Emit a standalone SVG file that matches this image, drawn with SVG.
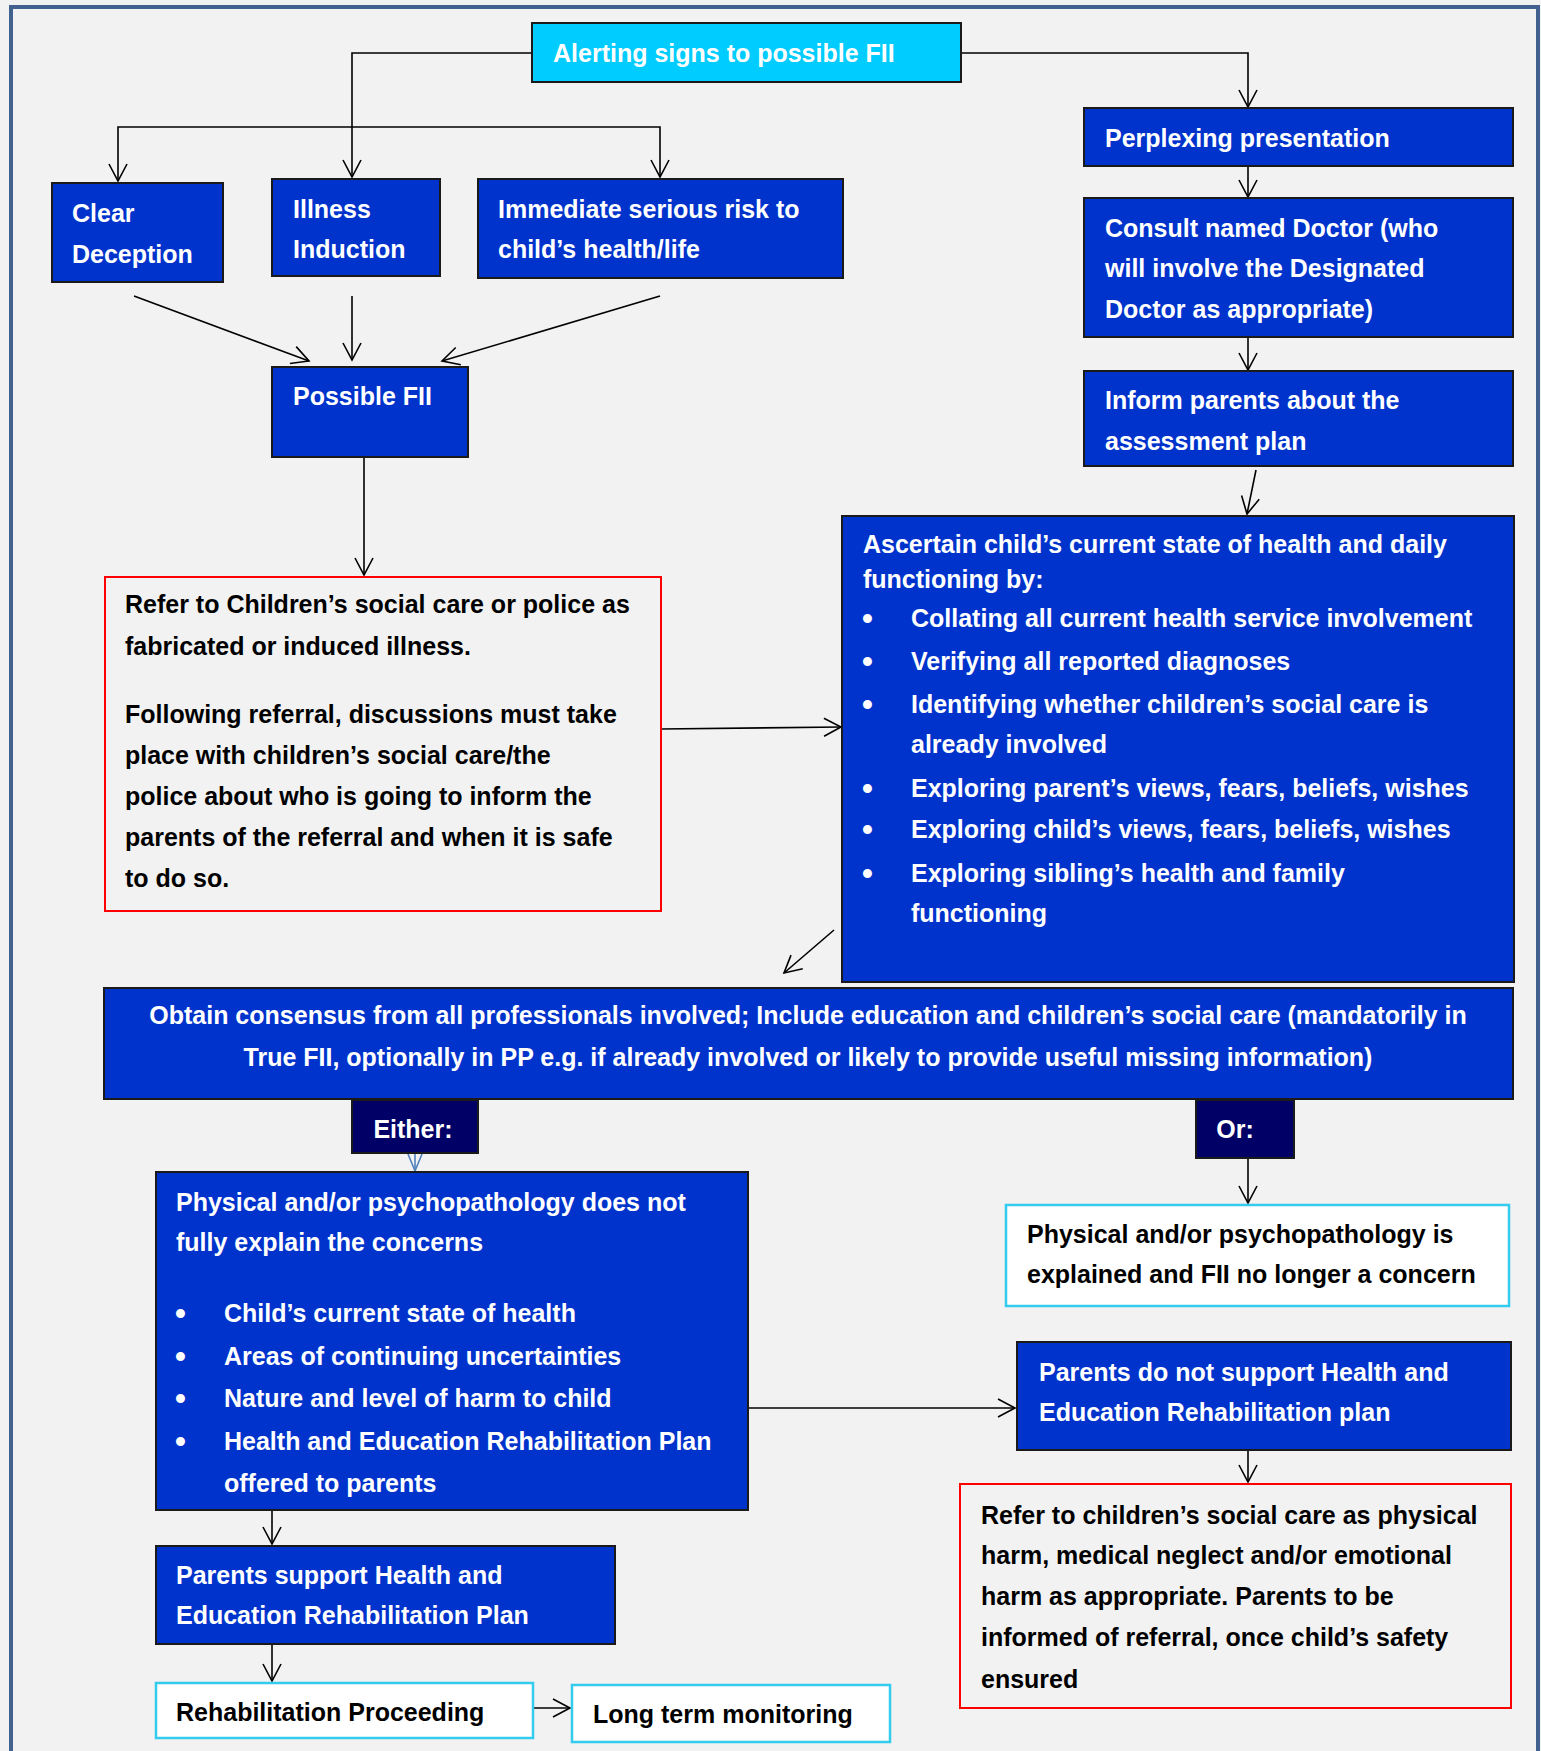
<svg xmlns="http://www.w3.org/2000/svg" width="1541" height="1751" viewBox="0 0 1541 1751">
<defs>
<style>
.bg{fill:#f2f2f2}
.frame{fill:none;stroke:#41628f;stroke-width:4}
.blue{fill:#0033cc;stroke:#1a1a1a;stroke-width:2}
.navy{fill:#000066;stroke:#1a1a1a;stroke-width:2}
.cyan{fill:#00ccff;stroke:#1a1a1a;stroke-width:2}
.white{fill:#ffffff;stroke:#33ccee;stroke-width:2.5}
.red{fill:none;stroke:#ff0000;stroke-width:2}
text{font-family:"Liberation Sans",Arial,sans-serif;font-weight:700;font-size:25px}
text.b{font-size:31px}
.w{fill:#ffffff}
.k{fill:#000000}
.c{text-anchor:middle}
.conn path{fill:none;stroke:#000;stroke-width:1.6}
.conn path.bl{stroke:#4f81bd}
</style>
<marker id="ah" markerUnits="userSpaceOnUse" markerWidth="24" markerHeight="24" viewBox="-20 -12 24 24" refX="0" refY="0" orient="auto">
<path d="M-17,-9 L0,0 L-17,9" fill="none" stroke="#000" stroke-width="1.6"/>
</marker>
<marker id="ahb" markerUnits="userSpaceOnUse" markerWidth="24" markerHeight="24" viewBox="-20 -12 24 24" refX="0" refY="0" orient="auto">
<path d="M-17,-7 L0,0 L-17,7" fill="none" stroke="#4f81bd" stroke-width="1.6"/>
</marker>
</defs>
<rect class="bg" x="0" y="0" width="1541" height="1751"/>
<rect class="frame" x="11" y="7" width="1527" height="1760"/>

<g class="conn">
<path d="M532,53 L352,53 L352,177" marker-end="url(#ah)"/>
<path d="M352,127 L118,127 L118,181" marker-end="url(#ah)"/>
<path d="M352,127 L660,127 L660,177" marker-end="url(#ah)"/>
<path d="M961,53 L1248,53 L1248,107" marker-end="url(#ah)"/>
<path d="M1248,160 L1248,197" marker-end="url(#ah)"/>
<path d="M1248,333 L1248,370" marker-end="url(#ah)"/>
<path d="M1256,470 L1247,514" marker-end="url(#ah)"/>
<path d="M134,296 L309,361" marker-end="url(#ah)"/>
<path d="M352,296 L352,360" marker-end="url(#ah)"/>
<path d="M660,296 L442,361" marker-end="url(#ah)"/>
<path d="M364,457 L364,575" marker-end="url(#ah)"/>
<path d="M661,729 L841,727" marker-end="url(#ah)"/>
<path d="M834,930 L784,973" marker-end="url(#ah)"/>
<path class="bl" d="M415,1153 L415,1171" marker-end="url(#ahb)"/>
<path d="M1248,1158 L1248,1203" marker-end="url(#ah)"/>
<path d="M272,1502 L272,1544" marker-end="url(#ah)"/>
<path d="M272,1644 L272,1681" marker-end="url(#ah)"/>
<path d="M533,1708 L570,1708" marker-end="url(#ah)"/>
<path d="M748,1408 L1015,1408" marker-end="url(#ah)"/>
<path d="M1248,1450 L1248,1482" marker-end="url(#ah)"/>
</g>

<g id="alerting">
<rect class="cyan" x="532" y="23" width="429" height="59"/>
<text class="w" x="553" y="62">Alerting signs to possible FII</text>
</g>
<g id="clear-deception">
<rect class="blue" x="52" y="183" width="171" height="99"/>
<text class="w" x="72" y="222">Clear</text>
<text class="w" x="72" y="263">Deception</text>
</g>
<g id="illness-induction">
<rect class="blue" x="272" y="179" width="168" height="97"/>
<text class="w" x="293" y="218">Illness</text>
<text class="w" x="293" y="258">Induction</text>
</g>
<g id="immediate-risk">
<rect class="blue" x="478" y="179" width="365" height="99"/>
<text class="w" x="498" y="218">Immediate serious risk to</text>
<text class="w" x="498" y="258">child’s health/life</text>
</g>
<g id="possible-fii">
<rect class="blue" x="272" y="367" width="196" height="90"/>
<text class="w" x="293" y="405">Possible FII</text>
</g>
<g id="refer-csc">
<rect class="red" x="105" y="577" width="556" height="334"/>
<text class="k" x="125" y="613">Refer to Children’s social care or police as</text>
<text class="k" x="125" y="655">fabricated or induced illness.</text>
<text class="k" x="125" y="723">Following referral, discussions must take</text>
<text class="k" x="125" y="764">place with children’s social care/the</text>
<text class="k" x="125" y="805">police about who is going to inform the</text>
<text class="k" x="125" y="846">parents of the referral and when it is safe</text>
<text class="k" x="125" y="887">to do so.</text>
</g>
<g id="perplexing">
<rect class="blue" x="1084" y="108" width="429" height="58"/>
<text class="w" x="1105" y="147">Perplexing presentation</text>
</g>
<g id="consult">
<rect class="blue" x="1084" y="198" width="429" height="139"/>
<text class="w" x="1105" y="237">Consult named Doctor (who</text>
<text class="w" x="1105" y="277">will involve the Designated</text>
<text class="w" x="1105" y="318">Doctor as appropriate)</text>
</g>
<g id="inform-parents">
<rect class="blue" x="1084" y="371" width="429" height="95"/>
<text class="w" x="1105" y="409">Inform parents about the</text>
<text class="w" x="1105" y="450">assessment plan</text>
</g>
<g id="ascertain">
<rect class="blue" x="842" y="516" width="672" height="466"/>
<text class="w" x="863" y="553">Ascertain child’s current state of health and daily</text>
<text class="w" x="863" y="588">functioning by:</text>
<text class="w b" x="862" y="629">•</text><text class="w" x="911" y="627">Collating all current health service involvement</text>
<text class="w b" x="862" y="672">•</text><text class="w" x="911" y="670">Verifying all reported diagnoses</text>
<text class="w b" x="862" y="715">•</text><text class="w" x="911" y="713">Identifying whether children’s social care is</text>
<text class="w" x="911" y="753">already involved</text>
<text class="w b" x="862" y="799">•</text><text class="w" x="911" y="797">Exploring parent’s views, fears, beliefs, wishes</text>
<text class="w b" x="862" y="840">•</text><text class="w" x="911" y="838">Exploring child’s views, fears, beliefs, wishes</text>
<text class="w b" x="862" y="884">•</text><text class="w" x="911" y="882">Exploring sibling’s health and family</text>
<text class="w" x="911" y="922">functioning</text>
</g>
<g id="obtain-consensus">
<rect class="blue" x="104" y="988" width="1409" height="111"/>
<text class="w c" x="808" y="1024">Obtain consensus from all professionals involved; Include education and children’s social care (mandatorily in</text>
<text class="w c" x="808" y="1066">True FII, optionally in PP e.g. if already involved or likely to provide useful missing information)</text>
</g>
<g id="either">
<rect class="navy" x="352" y="1100" width="126" height="53"/>
<text class="w c" x="413" y="1138">Either:</text>
</g>
<g id="or">
<rect class="navy" x="1196" y="1100" width="98" height="58"/>
<text class="w c" x="1235" y="1138">Or:</text>
</g>
<g id="not-explained">
<rect class="blue" x="156" y="1172" width="592" height="338"/>
<text class="w" x="176" y="1211">Physical and/or psychopathology does not</text>
<text class="w" x="176" y="1251">fully explain the concerns</text>
<text class="w b" x="175" y="1324">•</text><text class="w" x="224" y="1322">Child’s current state of health</text>
<text class="w b" x="175" y="1367">•</text><text class="w" x="224" y="1365">Areas of continuing uncertainties</text>
<text class="w b" x="175" y="1409">•</text><text class="w" x="224" y="1407">Nature and level of harm to child</text>
<text class="w b" x="175" y="1452">•</text><text class="w" x="224" y="1450">Health and Education Rehabilitation Plan</text>
<text class="w" x="224" y="1492">offered to parents</text>
</g>
<g id="explained">
<rect class="white" x="1006" y="1205" width="503" height="101"/>
<text class="k" x="1027" y="1243">Physical and/or psychopathology is</text>
<text class="k" x="1027" y="1283">explained and FII no longer a concern</text>
</g>
<g id="parents-support">
<rect class="blue" x="156" y="1546" width="459" height="98"/>
<text class="w" x="176" y="1584">Parents support Health and</text>
<text class="w" x="176" y="1624">Education Rehabilitation Plan</text>
</g>
<g id="parents-not-support">
<rect class="blue" x="1017" y="1342" width="494" height="108"/>
<text class="w" x="1039" y="1381">Parents do not support Health and</text>
<text class="w" x="1039" y="1421">Education Rehabilitation plan</text>
</g>
<g id="rehab-proceeding">
<rect class="white" x="156" y="1683" width="377" height="55"/>
<text class="k" x="176" y="1721">Rehabilitation Proceeding</text>
</g>
<g id="long-term">
<rect class="white" x="572" y="1685" width="318" height="57"/>
<text class="k" x="593" y="1723">Long term monitoring</text>
</g>
<g id="refer-physical">
<rect class="red" x="960" y="1484" width="551" height="224"/>
<text class="k" x="981" y="1524">Refer to children’s social care as physical</text>
<text class="k" x="981" y="1564">harm, medical neglect and/or emotional</text>
<text class="k" x="981" y="1605">harm as appropriate.  Parents to be</text>
<text class="k" x="981" y="1646">informed of referral, once child’s safety</text>
<text class="k" x="981" y="1688">ensured</text>
</g>
</svg>
